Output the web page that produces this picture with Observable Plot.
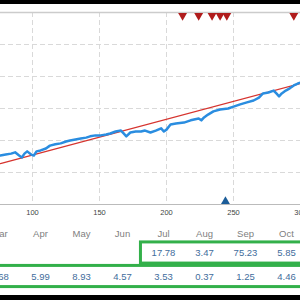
<!DOCTYPE html>
<html><head><meta charset="utf-8">
<script src="https://cdn.jsdelivr.net/npm/d3@7"></script>
<script src="https://cdn.jsdelivr.net/npm/@observablehq/plot@0.6"></script>
<style>
body{margin:0;background:#fff;width:300px;height:300px;overflow:hidden;position:relative;font-family:"Liberation Sans",Arial,sans-serif}
.bar{position:absolute;left:0;width:300px;background:#000}
#chart,#table{position:absolute;left:0}
</style></head><body>
<div id="chart" style="top:0"></div>
<div id="table" style="top:220px"></div>
<div class="bar" style="top:0;height:4px"></div>
<div class="bar" style="top:295px;height:5px"></div>
<script>
// balance curve (trade number, balance)
const trades = [76,80,84,87,90,92,94,96,99,101,103,106,110,113,117,121,125,128,132,136,140,143,147,151,155,158,162,166,168,170,173,177,181,184,188,192,196,198,200,203,207,213,218,224,226,228,231,235,240,246,250,255,260,265,269,272,276,280,282,284,286,289,292,295,298,300];
const balance = [5530,5560,5590,5630,5530,5470,5590,5660,5560,5530,5660,5690,5750,5840,5880,5910,5970,6000,6030,6060,6090,6130,6160,6160,6190,6220,6280,6310,6220,6130,6250,6280,6280,6310,6250,6310,6380,6280,6340,6500,6530,6560,6630,6690,6630,6720,6810,6910,6970,7000,7060,7130,7190,7250,7340,7470,7500,7560,7470,7380,7470,7560,7630,7720,7780,7810];
const trendX = [76, 300];
const trendY = [5280, 7780];
const sellTrades = [212, 224, 234, 240, 245, 295];
const buyTrades = [244];
const xTicks = [100, 150, 200, 250, 300];
const yGrid = [5000, 6000, 7000, 8000, 9000];
const yMin = 4000, yMax = 10000;

// table
const months = ["Mar","Apr","May","Jun","Jul","Aug","Sep","Oct"];
const row1 = [null,null,null,null,"17.78","3.47","75.23","5.85"];
const row2 = ["2.68","5.99","8.93","4.57","3.53","0.37","1.25","4.46"];

const bal = trades.map((t,i)=>({t, b: balance[i]}));
const trend = trendX.map((t,i)=>({t, b: trendY[i]}));

const chart = Plot.plot({
  width: 300, height: 220,
  marginLeft: 0, marginRight: 0, marginTop: 12, marginBottom: 16,
  style: {fontSize: "7.5px", fontFamily: "Liberation Sans, Arial, sans-serif", color: "#444", background: "transparent"},
  x: {domain: [76.1, 300], ticks: xTicks, tickSize: 0, tickPadding: 5, label: null},
  y: {domain: [yMin, yMax], axis: null},
  marks: [
    Plot.ruleX(xTicks, {stroke: "#d9d9d9", strokeDasharray: "5,3"}),
    Plot.ruleY(yGrid, {stroke: "#d9d9d9", strokeDasharray: "5,3"}),
    Plot.ruleY([yMax], {stroke: "#cccccc", strokeWidth: 1.5}),
    Plot.ruleY([yMin], {stroke: "#bbbbbb"}),
    Plot.line(trend, {x: "t", y: "b", stroke: "#d6342f", strokeWidth: 1.3}),
    Plot.line(bal, {x: "t", y: "b", stroke: "#2a8de0", strokeWidth: 2.5, curve: "linear"}),
    Plot.dot(sellTrades, {x: d=>d, y: ()=>yMax, symbol: "triangle", rotate: 180, r: 3.3, fill: "#b01c1c", dy: 3}),
    Plot.dot(buyTrades, {x: d=>d, y: ()=>yMin, symbol: "triangle", r: 3.3, fill: "#1c5d99", dy: -3})
  ]
});
document.getElementById("chart").append(chart);

const idx = months.map((m,i)=>i);
const r1first = row1.findIndex(v=>v!==null);
const boxes = [
  {x1: r1first - 0.55, x2: months.length, y1: 0.55, y2: 1.45},
  {x1: -0.6, x2: months.length, y1: 1.55, y2: 2.45}
];
const table = Plot.plot({
  width: 300, height: 75,
  marginLeft: 0, marginRight: 0, marginTop: 0, marginBottom: 0,
  style: {fontFamily: "Liberation Sans, Arial, sans-serif", background: "transparent"},
  x: {domain: [0, months.length - 1], range: [-1, 286], axis: null},
  y: {domain: [1, 2], range: [32.5, 56], axis: null},
  marks: [
    Plot.rect(boxes, {x1: "x1", x2: "x2", y1: "y1", y2: "y2", fill: "none", stroke: "#33b04a", strokeWidth: 3}),
    Plot.text(idx, {x: d=>d, y: ()=>1, dy: -19.5, text: d=>months[d], fill: "#808080", fontSize: 9.5}),
    Plot.text(idx.filter(i=>row1[i]!==null), {x: d=>d, y: ()=>1, text: d=>row1[d], fill: "#3f6d9c", fontSize: 9.5}),
    Plot.text(idx, {x: d=>d, y: ()=>2, text: d=>row2[d], fill: "#3f6d9c", fontSize: 9.5})
  ]
});
document.getElementById("table").append(table);
</script></body></html>
